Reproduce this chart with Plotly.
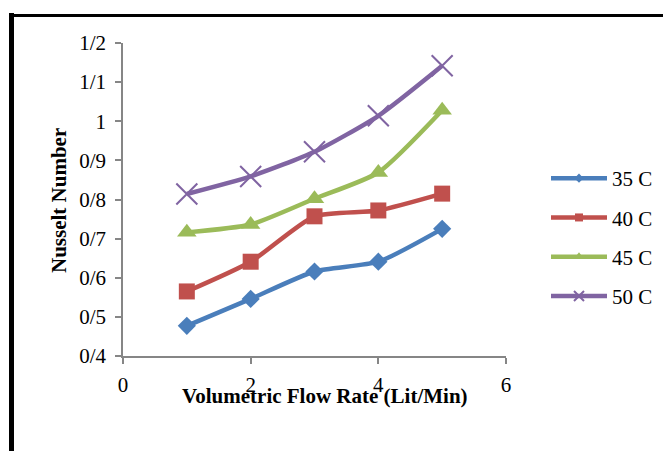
import plotly.graph_objects as go

flow_rate = [1, 2, 3, 4, 5]
nu_35 = [0.477, 0.546, 0.616, 0.641, 0.725]
nu_40 = [0.565, 0.641, 0.757, 0.772, 0.815]
nu_45 = [0.716, 0.736, 0.802, 0.869, 1.028]
nu_50 = [0.814, 0.859, 0.922, 1.014, 1.142]
series_names = ["35 C", "40 C", "45 C", "50 C"]

y_tickvals = [0.4, 0.5, 0.6, 0.7, 0.8, 0.9, 1.0, 1.1, 1.2]
y_ticktext = ["0/4", "0/5", "0/6", "0/7", "0/8", "0/9", "1", "1/1", "1/2"]
x_tickvals = [0, 2, 4, 6]

FONT = "Liberation Serif, Times New Roman, serif"
colors = ["#4A7EBB", "#C0504D", "#9BBB59", "#8064A2"]
symbols = ["diamond", "square", "triangle-up", "x-thin"]
sizes = [14, 16, 17, 21]
legend_sizes = [7, 8, 9, 10]

fig = go.Figure()
for i, (name, ys) in enumerate(zip(series_names, [nu_35, nu_40, nu_45, nu_50])):
    marker = dict(symbol=symbols[i], size=sizes[i], color=colors[i])
    lmarker = dict(symbol=symbols[i], size=legend_sizes[i], color=colors[i])
    if symbols[i] == "x-thin":
        marker["line"] = dict(color=colors[i], width=2)
        lmarker["line"] = dict(color=colors[i], width=2)
    fig.add_trace(go.Scatter(
        x=flow_rate, y=ys, name=name, mode="lines+markers",
        line=dict(color=colors[i], width=4.5, shape="spline", smoothing=0.6),
        marker=marker, legendgroup=name, showlegend=False,
    ))
    # legend-only entry with small marker (as in the original legend)
    fig.add_trace(go.Scatter(
        x=[None], y=[None], name=name, mode="lines+markers",
        line=dict(color=colors[i], width=4.5),
        marker=lmarker, legendgroup=name, showlegend=True,
    ))

# page body has an 8px offset; work in screen pixels and convert
OFF = 8
W, H = 671 - OFF, 451 - OFF
L, R, T, B = 123 - OFF, 165, 43 - OFF, 95
pw, ph = W - L - R, H - T - B

def px_x(px):
    return (px - OFF - L) / pw

def px_y(py):
    return (H - B - (py - OFF)) / ph

fig.update_layout(
    width=W, height=H,
    margin=dict(l=L, r=R, t=T, b=B, pad=0),
    paper_bgcolor="white", plot_bgcolor="white",
    font=dict(family=FONT, size=21, color="black"),
    xaxis=dict(range=[0, 6], tickvals=x_tickvals, showgrid=False, zeroline=False,
               showline=True, linecolor="#868686", linewidth=1.5,
               ticks="outside", ticklen=6, tickcolor="#868686", tickwidth=1.5,
               ticklabelstandoff=3,
               tickfont=dict(family=FONT, size=21)),
    yaxis=dict(range=[0.4, 1.2], tickvals=y_tickvals, ticktext=y_ticktext,
               showgrid=False, zeroline=False,
               showline=True, linecolor="#868686", linewidth=1.5,
               ticks="outside", ticklen=6, tickcolor="#868686", tickwidth=1.5,
               ticklabelstandoff=5,
               tickfont=dict(family=FONT, size=21)),
    legend=dict(x=px_x(546), xanchor="left", y=px_y(158), yanchor="top",
                font=dict(family=FONT, size=21), itemwidth=56,
                traceorder="grouped", tracegroupgap=9, bgcolor="rgba(0,0,0,0)"),
    showlegend=True,
    annotations=[
        dict(text="<b>Volumetric Flow Rate (Lit/Min)</b>", x=px_x(325), y=px_y(396),
             xref="paper", yref="paper", showarrow=False, xanchor="center", yanchor="middle",
             font=dict(family=FONT, size=21)),
        dict(text="<b>Nusselt Number</b>", x=px_x(59), y=px_y(201),
             xref="paper", yref="paper", showarrow=False, xanchor="center", yanchor="middle",
             textangle=-90, font=dict(family=FONT, size=21)),
    ],
    shapes=[
        dict(type="line", xref="paper", yref="paper",
             x0=px_x(11.5), x1=px_x(11.5), y0=px_y(13), y1=px_y(470),
             line=dict(color="black", width=5)),
        dict(type="line", xref="paper", yref="paper",
             x0=px_x(9), x1=px_x(700), y0=px_y(15.5), y1=px_y(15.5),
             line=dict(color="black", width=3)),
    ],
)

fig.write_html("out.html")
